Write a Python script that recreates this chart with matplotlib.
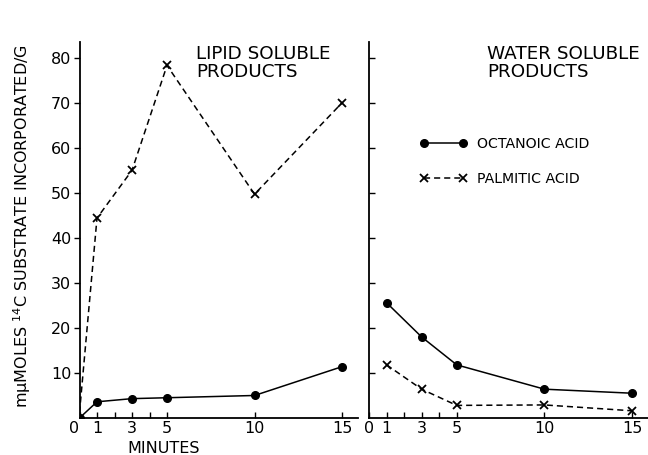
import matplotlib
matplotlib.use("Agg")
import matplotlib.pyplot as plt

# ---- data ----
lipid_times = [0, 1, 3, 5, 10, 15]
lipid_octanoic = [0, 3.6, 4.3, 4.5, 5.0, 11.4]
lipid_palmitic = [1.2, 44.4, 55.0, 78.3, 49.7, 70.0]

water_times = [1, 3, 5, 10, 15]
water_octanoic = [25.6, 18.0, 11.8, 6.4, 5.5]
water_palmitic = [11.8, 6.4, 2.8, 2.9, 1.6]

xtick_major = [0, 1, 3, 5, 10, 15]
xtick_labels = ["0", "1", "3", "5", "10", "15"]
xtick_minor = [2, 4]
ytick_vals = [10, 20, 30, 40, 50, 60, 70, 80]
ytick_labels = ["10", "20", "30", "40", "50", "60", "70", "80"]

series_names = ["OCTANOIC ACID", "PALMITIC ACID"]
panel_titles = ["LIPID SOLUBLE\nPRODUCTS", "WATER SOLUBLE\nPRODUCTS"]
ylabel = "mμMOLES $^{14}$C SUBSTRATE INCORPORATED/G"
xlabel = "MINUTES"

W, H = 648, 455
fig = plt.figure(figsize=(W / 100, H / 100), dpi=100)

def fx(px):
    return px / W

def fy(py):
    return 1 - py / H

XMAX = 15.9
YMAX = 83.5
axL = fig.add_axes([fx(79.5), fy(418), (357.8 - 79.5) / W, (418 - 42) / H])
axR = fig.add_axes([fx(369), fy(418), (648 - 369) / W, (418 - 42) / H])

dash = (0, (4, 2.6))
lw = 1.1
for ax in (axL, axR):
    ax.set_xlim(0, XMAX)
    ax.set_ylim(0, YMAX)
    for s in ("top", "right"):
        ax.spines[s].set_visible(False)
    for s in ("left", "bottom"):
        ax.spines[s].set_linewidth(1.3)
    ax.set_xticks(xtick_major)
    ax.set_xticklabels(xtick_labels, fontsize=11.5)
    ax.set_xticks(xtick_minor, minor=True)
    ax.tick_params(axis="x", which="both", direction="in", length=4, width=1.0, pad=2)
    ax.set_yticks(ytick_vals)

# left panel
lo, = axL.plot(lipid_times, lipid_octanoic, color="black", lw=lw, marker="o", ms=5.5)
lp, = axL.plot(lipid_times, lipid_palmitic, color="black", lw=lw, linestyle=dash,
               marker="x", ms=5.5, mew=1.3, markevery=list(range(1, len(lipid_times))))
axL.set_yticklabels(ytick_labels, fontsize=11.5)
axL.tick_params(axis="y", direction="out", length=4, width=1.0, pad=2)
for lbl in axL.get_xticklabels():
    if lbl.get_text() == "0":
        lbl.set_horizontalalignment("right")

# right panel
ro, = axR.plot(water_times, water_octanoic, color="black", lw=lw, marker="o", ms=5.5)
rp, = axR.plot(water_times, water_palmitic, color="black", lw=lw, linestyle=dash,
               marker="x", ms=5.5, mew=1.3)
axR.set_yticklabels([])
axR.tick_params(axis="y", direction="in", length=4, width=1.0)

# legend
axR.legend([ro, rp], series_names, loc="upper left",
           bbox_to_anchor=(fx(420), fy(137)), bbox_transform=fig.transFigure,
           frameon=False, numpoints=2, fontsize=10.2, handlelength=3.3,
           handletextpad=0.7, labelspacing=1.5, borderpad=0, borderaxespad=0)

# titles
fig.text(fx(196), fy(45), panel_titles[0], fontsize=13.2, va="top", ha="left", linespacing=1.0)
fig.text(fx(487), fy(45), panel_titles[1], fontsize=13.2, va="top", ha="left", linespacing=1.0)

# axis labels
fig.text(fx(164), fy(453), xlabel, fontsize=11.5, ha="center", va="baseline")
fig.text(fx(22), fy(226), ylabel, fontsize=11.5, rotation=90, ha="center", va="center")

fig.savefig("out.png", dpi=100)
